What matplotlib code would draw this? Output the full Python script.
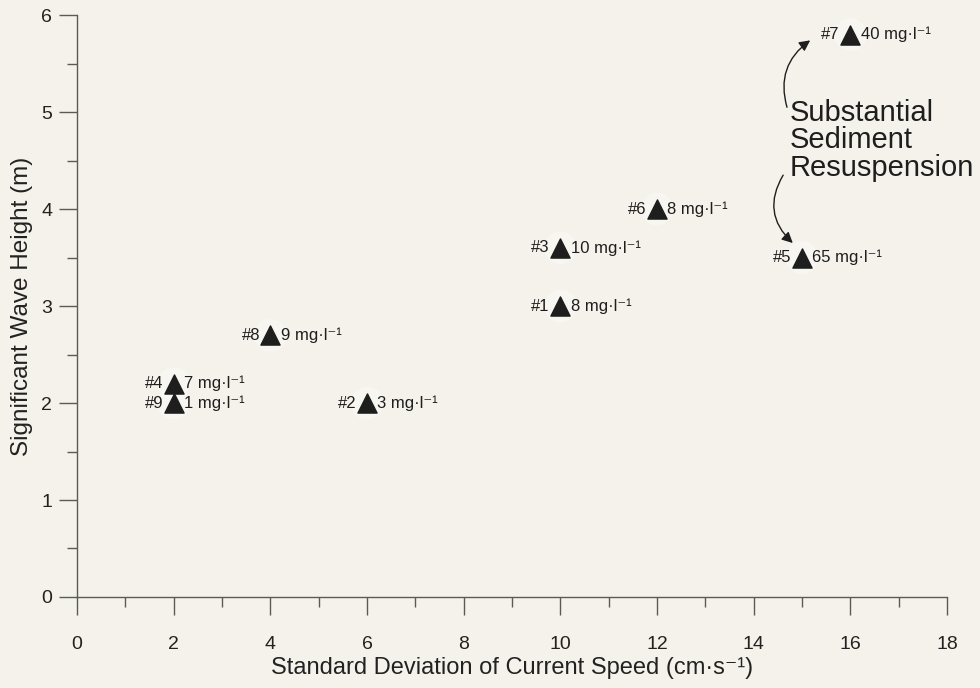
import matplotlib
matplotlib.use("Agg")
import matplotlib.pyplot as plt

plt.rcParams['font.family'] = ['Liberation Sans', 'DejaVu Sans']

# station data: current speed std (cm/s), wave height (m), suspended sediment (mg/l)
stations = ['#1', '#2', '#3', '#4', '#5', '#6', '#7', '#8', '#9']
speed_sd = [10, 6, 10, 2, 15, 12, 16, 4, 2]
wave_height = [3.0, 2.0, 3.6, 2.2, 3.5, 4.0, 5.8, 2.7, 2.0]
sediment = [8, 3, 10, 7, 65, 8, 40, 9, 1]

bg = '#f4f2ea'
axc = '#5a5a5a'
ink = '#1e1e1e'

fig = plt.figure(figsize=(9.8, 6.88), dpi=100, facecolor=bg)
ax = fig.add_axes([0.0786, 0.1323, 0.8877, 0.8457], facecolor=bg)

# faint white halo behind each marker
ax.scatter(speed_sd, wave_height, s=550, color='white', alpha=0.35,
           edgecolors='none', zorder=2)
ax.scatter(speed_sd, wave_height, marker='^', s=190, color=ink,
           edgecolors=ink, zorder=3)

for name, x, y, c in zip(stations, speed_sd, wave_height, sediment):
    ax.annotate(name, (x, y), xytext=(-7.5, 0), textcoords='offset points',
                ha='right', va='center', fontsize=12, color=ink, zorder=4)
    ax.annotate('%d mg·l⁻¹' % c, (x, y), xytext=(7.5, 0),
                textcoords='offset points', ha='left', va='center',
                fontsize=12, color=ink, zorder=4)

ax.text(14.75, 4.71, 'Substantial\nSediment\nResuspension', fontsize=21,
        ha='left', va='center', linespacing=0.98, color=ink)

arrow = dict(arrowstyle='-|>', color=ink, lw=1.0, mutation_scale=16,
             shrinkA=0, shrinkB=0)
ax.annotate('', xy=(15.17, 5.74), xytext=(14.69, 5.05),
            arrowprops=dict(connectionstyle='arc3,rad=-0.35', **arrow))
ax.annotate('', xy=(14.81, 3.65), xytext=(14.61, 4.35),
            arrowprops=dict(connectionstyle='arc3,rad=0.4', **arrow))

ax.set_xlim(0, 18)
ax.set_ylim(0, 6)
ax.set_xticks(range(0, 19, 2))
ax.set_xticks(range(1, 18, 2), minor=True)
ax.set_yticks(range(0, 7))
ax.set_yticks([0.5, 1.5, 2.5, 3.5, 4.5, 5.5], minor=True)

for s in ['top', 'right']:
    ax.spines[s].set_visible(False)
for s in ['left', 'bottom']:
    ax.spines[s].set_color(axc)
    ax.spines[s].set_linewidth(1.0)

ax.tick_params(axis='both', which='major', direction='out', length=13,
               width=1.0, color=axc, labelsize=14, labelcolor='#222222')
ax.tick_params(axis='both', which='minor', direction='out', length=7,
               width=1.0, color=axc)
ax.tick_params(axis='x', which='major', pad=15)
ax.tick_params(axis='y', which='major', pad=5)

ax.set_xlabel('Standard Deviation of Current Speed (cm·s⁻¹)',
              fontsize=17, color='#222222', labelpad=3)
ax.set_ylabel('Significant Wave Height (m)', fontsize=17.5, color='#222222',
              labelpad=6)

fig.savefig('out.png', dpi=100, facecolor=bg)
